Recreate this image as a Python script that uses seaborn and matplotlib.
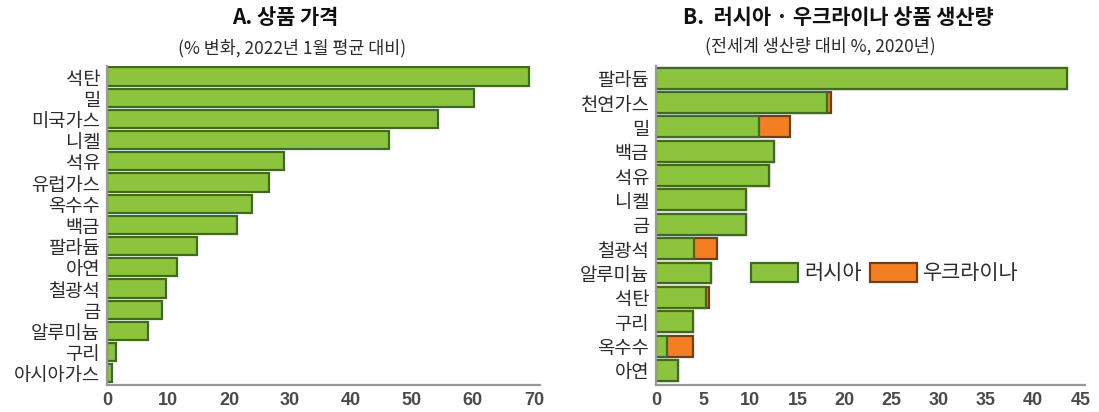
import matplotlib
matplotlib.use("Agg")
import matplotlib.pyplot as plt
import seaborn as sns
import pandas as pd
from matplotlib.patches import Patch

# Panel A: commodity price change vs. January 2022 average (%)
price_items = ["석탄", "밀", "미국가스", "니켈", "석유", "유럽가스", "옥수수", "백금",
               "팔라듐", "아연", "철광석", "금", "알루미늄", "구리", "아시아가스"]
price_change = [69.2, 60.1, 54.3, 46.3, 29.0, 26.5, 23.7, 21.3,
                14.7, 11.4, 9.7, 9.0, 6.8, 1.4, 0.9]

# Panel B: share of world production, 2020 (%)
prod_items = ["팔라듐", "천연가스", "밀", "백금", "석유", "니켈", "금",
              "철광석", "알루미늄", "석탄", "구리", "옥수수", "아연"]
russia_share = [43.6, 18.1, 10.9, 12.5, 12.0, 9.5, 9.5, 4.0, 5.8, 5.3, 3.9, 1.2, 2.3]
ukraine_share = [0.0, 0.5, 3.3, 0.0, 0.0, 0.0, 0.0, 2.5, 0.0, 0.3, 0.0, 2.7, 0.0]

GREEN = "#8cc43e"
GREEN_EDGE = "#3f6a22"
ORANGE = "#f47f22"
ORANGE_EDGE = "#6e4016"
SPINE = "#9a9a9a"
TEXT = "#2b2b2b"

sns.set_theme(style="white")
plt.rcParams["font.family"] = ["Noto Sans CJK KR", "DejaVu Sans"]

W, H = 1099, 412
fig = plt.figure(figsize=(W / 100, H / 100), dpi=100)


def px_axes(x0, x1, ytop, ybot):
    return fig.add_axes([x0 / W, 1 - ybot / H, (x1 - x0) / W, (ybot - ytop) / H])


def style_axes(ax, xmax, ticks):
    ax.set_xlim(0, xmax)
    ax.set_xticks(ticks)
    ax.set_xticklabels([str(t) for t in ticks], fontfamily="Liberation Sans",
                       fontsize=13, fontweight="bold", color="#4a4a4a")
    ax.tick_params(axis="x", length=0, pad=5)
    ax.tick_params(axis="y", length=0, pad=5, labelsize=13.5, labelcolor=TEXT)
    ax.set_xlabel("")
    ax.set_ylabel("")
    for side in ("top", "right"):
        ax.spines[side].set_visible(False)
    for side in ("left", "bottom"):
        ax.spines[side].set_color(SPINE)
        ax.spines[side].set_linewidth(1.6)


# ---- Panel A ----
axA = px_axes(107, 540, 66, 385)
dfA = pd.DataFrame({"item": price_items, "value": price_change})
sns.barplot(data=dfA, x="value", y="item", orient="h", color=GREEN,
            saturation=1, width=0.86, edgecolor=GREEN_EDGE, linewidth=1.6, ax=axA)
axA.set_ylim(len(price_items) - 0.5 + 0.05, -0.5)
style_axes(axA, 71, list(range(0, 71, 10)))

# ---- Panel B ----
axB = px_axes(656, 1085, 66, 385)
dfB = pd.DataFrame({"item": prod_items, "russia": russia_share,
                    "total": [r + u for r, u in zip(russia_share, ukraine_share)]})
sns.barplot(data=dfB, x="total", y="item", orient="h", color=ORANGE,
            saturation=1, width=0.86, edgecolor=ORANGE_EDGE, linewidth=1.6, ax=axB)
sns.barplot(data=dfB, x="russia", y="item", orient="h", color=GREEN,
            saturation=1, width=0.86, edgecolor=GREEN_EDGE, linewidth=1.6, ax=axB)
axB.set_ylim(len(prod_items) - 0.5 + 0.1, -0.5)
style_axes(axB, 45.5, list(range(0, 46, 5)))

handles = [Patch(facecolor=GREEN, edgecolor=GREEN_EDGE, linewidth=1.6, label="러시아"),
           Patch(facecolor=ORANGE, edgecolor=ORANGE_EDGE, linewidth=1.6, label="우크라이나")]
axB.legend(handles=handles, loc="center left", bbox_to_anchor=(0.178, 0.35),
           ncol=2, frameon=False, fontsize=15, handlelength=2.25, handleheight=1.0,
           handletextpad=0.3, columnspacing=0.4, labelcolor=TEXT)

# ---- Titles ----
fig.text(285 / W, 1 - 17 / H, "A. 상품 가격", ha="center", va="center",
         fontsize=15, fontweight="black", color="#111111")
fig.text(292 / W, 1 - 48 / H, "(% 변화, 2022년 1월 평균 대비)", ha="center", va="center",
         fontsize=12.5, color=TEXT)
fig.text(838 / W, 1 - 17 / H, "B.  러시아 · 우크라이나 상품 생산량", ha="center", va="center",
         fontsize=15, fontweight="black", color="#111111")
fig.text(820 / W, 1 - 46 / H, "(전세계 생산량 대비 %, 2020년)", ha="center", va="center",
         fontsize=12.5, color=TEXT)

fig.savefig("out.png", dpi=100, facecolor="white")
